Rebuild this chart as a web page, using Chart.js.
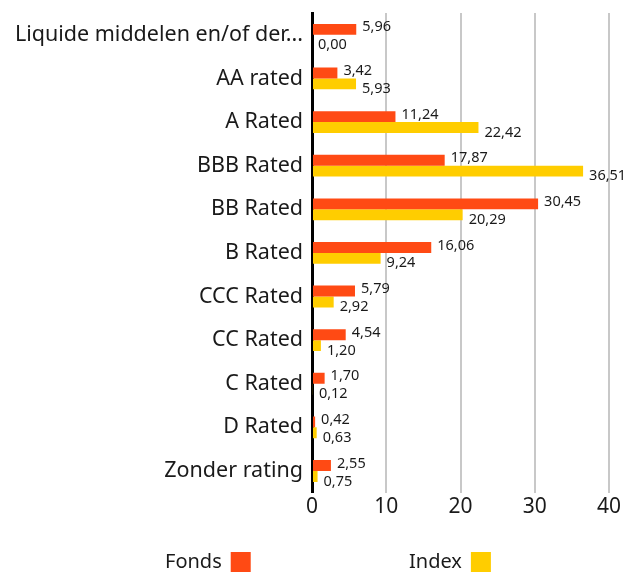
<!DOCTYPE html>
<html>
<head>
<meta charset="utf-8">
<script src="https://cdn.jsdelivr.net/npm/chart.js@4"></script>
<style>
  html, body { margin: 0; padding: 0; background: #fff; }
  #wrap { width: 639px; height: 574px; position: relative; }
</style>
</head>
<body>
<div id="wrap"><canvas id="barChart"></canvas></div>
<script>
var categories = ['Liquide middelen en/of der...', 'AA rated', 'A Rated', 'BBB Rated', 'BB Rated', 'B Rated', 'CCC Rated', 'CC Rated', 'C Rated', 'D Rated', 'Zonder rating'];
var fondsValues = [5.96, 3.42, 11.24, 17.87, 30.45, 16.06, 5.79, 4.54, 1.70, 0.42, 2.55];
var indexValues = [0.00, 5.93, 22.42, 36.51, 20.29, 9.24, 2.92, 1.20, 0.12, 0.63, 0.75];
var seriesNames = ['Fonds', 'Index'];
var xTicks = [0, 10, 20, 30, 40];

var FONT = '"Noto Sans", sans-serif';
var ORANGE = 'rgb(255, 74, 20)';
var YELLOW = 'rgb(255, 205, 0)';

// value labels next to each bar, Dutch decimal comma
var valueLabels = {
    id: 'valueLabels',
    afterDatasetsDraw: function(chart) {
        var ctx = chart.ctx;
        ctx.save();
        ctx.font = '14.5px ' + FONT;
        ctx.fillStyle = '#1a1a1a';
        ctx.textAlign = 'left';
        ctx.textBaseline = 'middle';
        chart.data.datasets.forEach(function(ds, i) {
            var meta = chart.getDatasetMeta(i);
            meta.data.forEach(function(bar, j) {
                var txt = ds.data[j].toFixed(2).replace('.', ',');
                var dy = i === 0 ? -2 : 5;
                ctx.fillText(txt, bar.x + 6, bar.y + dy);
            });
        });
        ctx.restore();
    }
};

// legend: text first, colour box after it
var sideLegend = {
    id: 'sideLegend',
    afterDraw: function(chart) {
        var ctx = chart.ctx;
        var y = 562;
        var items = [
            { text: seriesNames[0], color: ORANGE, x: 165 },
            { text: seriesNames[1], color: YELLOW, x: 409 }
        ];
        ctx.save();
        ctx.font = '20px ' + FONT;
        ctx.textAlign = 'left';
        ctx.textBaseline = 'middle';
        items.forEach(function(it) {
            ctx.fillStyle = '#1a1a1a';
            ctx.fillText(it.text, it.x, y);
            var w = ctx.measureText(it.text).width;
            ctx.fillStyle = it.color;
            ctx.fillRect(it.x + w + 9, y - 10, 20, 20);
        });
        ctx.restore();
    }
};

var ctx = document.getElementById('barChart').getContext('2d');
var chart = new Chart(ctx, {
    type: 'bar',
    data: {
        labels: categories,
        datasets: [
            {
                label: seriesNames[0],
                data: fondsValues,
                backgroundColor: ORANGE,
                barPercentage: 1,
                categoryPercentage: 0.5
            },
            {
                label: seriesNames[1],
                data: indexValues,
                backgroundColor: YELLOW,
                barPercentage: 1,
                categoryPercentage: 0.5
            }
        ]
    },
    options: {
        indexAxis: 'y',
        responsive: true,
        maintainAspectRatio: false,
        animation: false,
        layout: { padding: { top: 13, right: 30, bottom: 52, left: 0 } },
        plugins: {
            legend: { display: false },
            tooltip: { enabled: false }
        },
        scales: {
            x: {
                min: 0,
                max: 40,
                afterBuildTicks: function(axis) {
                    axis.ticks = xTicks.map(function(v) { return { value: v }; });
                },
                grid: {
                    color: '#c8c8c8',
                    lineWidth: 2,
                    drawTicks: false
                },
                border: { display: false },
                ticks: {
                    color: '#1a1a1a',
                    font: { family: FONT, size: 21 },
                    padding: 2
                }
            },
            y: {
                afterFit: function(axis) {
                    axis.width = 312;
                    axis.paddingTop = 0;
                    axis.paddingBottom = 0;
                },
                grid: { display: false, drawTicks: false },
                border: { display: true, color: '#000', width: 3 },
                ticks: {
                    color: '#1a1a1a',
                    font: { family: FONT, size: 21.5 },
                    padding: 9
                }
            }
        }
    },
    plugins: [valueLabels, sideLegend]
});
</script>
</body>
</html>
